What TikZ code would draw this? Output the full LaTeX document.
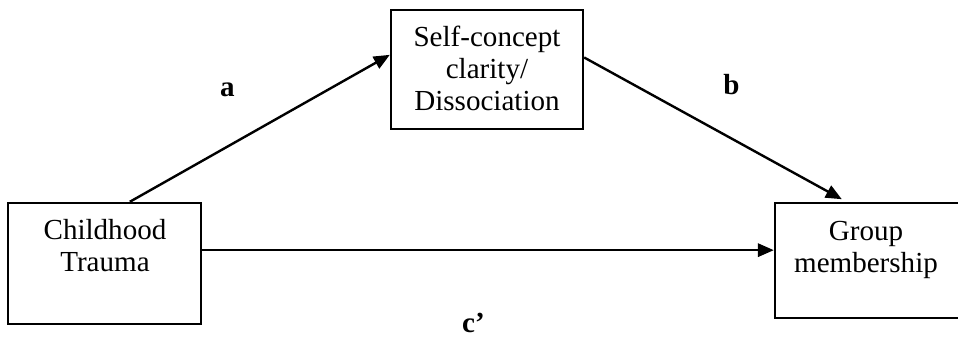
\documentclass[tikz,border=0pt]{standalone}
\usepackage{fontspec}
\setmainfont{Liberation Serif}
\usetikzlibrary{arrows.meta}

\tikzset{
  box/.style={draw, rectangle, line width=1.8pt, inner sep=0pt},
  txt/.style={align=center, inner sep=0pt, font=\fontsize{21.8}{24}\selectfont},
  lbl/.style={inner sep=0pt, font=\fontsize{21.8}{24}\selectfont\bfseries},
  link/.style={line width=1.8pt, -{Triangle[length=12pt,width=10pt]}}
}

\begin{document}
\begin{tikzpicture}[x=0.75pt,y=-0.75pt]
    \useasboundingbox (0,0) rectangle (958,338);

    \node[box, minimum width=144.75pt, minimum height=90.75pt] (child) at (104.5,263.5) {};
    \node[box, minimum width=144pt, minimum height=89.25pt] (scc) at (487,69.5) {};
    \node[box, minimum width=140.25pt, minimum height=86.25pt] (group) at (868.5,260.5) {};

    \node[txt] (childtext) at (105,245.5) {Childhood\\Trauma};
    \node[txt] (scctext) at (487,68) {Self-concept\\clarity/\\Dissociation};
    \node[txt] (grouptext) at (866,249.5) {Group\\membership};

    \draw[link] ([xshift=19pt]child.north) -- ([yshift=11pt]scc.west);
    \draw[link, shorten >=4pt] ([yshift=9pt]scc.east) -- ([xshift=-16.5pt]group.north);
    \draw[link] ([yshift=10pt]child.east) -- ([yshift=10pt]child.east -| group.west);

    \node[lbl] (la) at (227.5,90) {a};
    \node[lbl] (lb) at (731.5,85) {b};
    \node[lbl] (lc) at (473.5,323) {c’};
\end{tikzpicture}
\end{document}
